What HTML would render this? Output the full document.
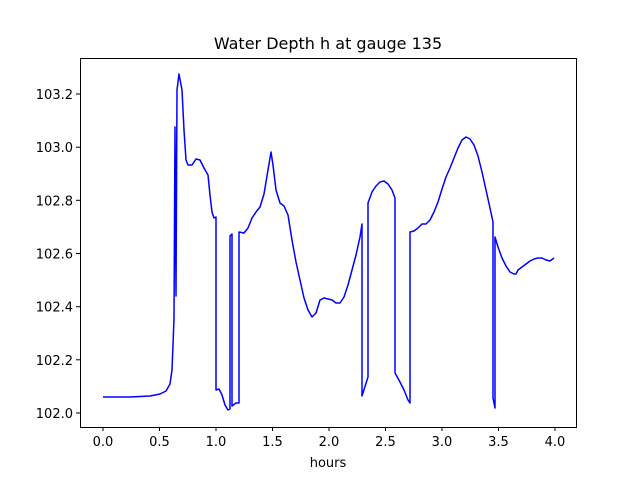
<!DOCTYPE html>
<html><head><meta charset="utf-8"><style>
body{margin:0;background:#fff;}
svg{display:block;font-family:"DejaVu Sans","Liberation Sans",sans-serif;}
</style></head><body>
<svg width="640" height="480" viewBox="0 0 640 480">
<rect width="640" height="480" fill="#fff"/>
<polyline fill="none" stroke="#0000ff" stroke-width="1.5" stroke-linejoin="round" points="103,397 130,397 150,396 160,394 166,391 170,384 172,370 173,345 174,318 175,127 176,296 177,90 179,74 182,90 184,130 186,160 188,165 192,165 196,159 200,160 204,168 208,175 210,195 212,212 214,218 216,217 216,390 219,389 222,395 225,405 228,410 230,409 230,236 232,234 232,406 236,403 239,403 239,232 244,233 248,228 252,218 256,212 260,207 264,194 268,170 271,152 273,165 276,190 280,203 284,206 288,215 292,240 296,262 300,280 304,298 308,310 312,317 316,313 320,300 324,298 328,299 332,300 336,303 340,303 344,297 348,285 352,270 356,255 360,237 362,224 362,396 368,377 368,203 372,192 376,186 380,182 384,181 388,184 392,190 395,198 395,373 400,382 404,390 408,400 410,403 410,232 414,231 418,228 422,224 426,224 430,220 434,212 438,202 442,189 446,177 450,168 454,158 458,148 462,140 466,137 470,139 474,145 478,156 482,172 486,190 490,208 493,222 493,398 495,408 495,237 498,247 502,258 506,266 510,272 514,274 516,274 518,270 522,267 526,264 530,261 534,259 538,258 542,258 546,260 550,261 554,258"/>
<rect x="80.5" y="58.5" width="496" height="369" fill="none" stroke="#000" stroke-width="1"/>
<g stroke="#000" stroke-width="1">
<line x1="103" y1="427" x2="103" y2="431"/><line x1="159.5" y1="427" x2="159.5" y2="431"/><line x1="216" y1="427" x2="216" y2="431"/><line x1="272.5" y1="427" x2="272.5" y2="431"/><line x1="329" y1="427" x2="329" y2="431"/><line x1="385.5" y1="427" x2="385.5" y2="431"/><line x1="442" y1="427" x2="442" y2="431"/><line x1="498.5" y1="427" x2="498.5" y2="431"/><line x1="555" y1="427" x2="555" y2="431"/>
<line x1="76" y1="413" x2="80" y2="413"/><line x1="76" y1="359.8" x2="80" y2="359.8"/><line x1="76" y1="306.7" x2="80" y2="306.7"/><line x1="76" y1="253.5" x2="80" y2="253.5"/><line x1="76" y1="200.3" x2="80" y2="200.3"/><line x1="76" y1="147.2" x2="80" y2="147.2"/><line x1="76" y1="94" x2="80" y2="94"/>
</g>
<g font-size="13" text-anchor="middle">
<text x="103" y="446">0.0</text><text x="159.5" y="446">0.5</text><text x="216" y="446">1.0</text><text x="272.5" y="446">1.5</text><text x="329" y="446">2.0</text><text x="385.5" y="446">2.5</text><text x="442" y="446">3.0</text><text x="498.5" y="446">3.5</text><text x="555" y="446">4.0</text>
<text x="328" y="467">hours</text>
</g>
<g font-size="13" text-anchor="end">
<text x="73" y="418">102.0</text><text x="73" y="364.8">102.2</text><text x="73" y="311.7">102.4</text><text x="73" y="258.5">102.6</text><text x="73" y="205.3">102.8</text><text x="73" y="152.2">103.0</text><text x="73" y="99">103.2</text>
</g>
<text x="328" y="49" font-size="16" text-anchor="middle">Water Depth h at gauge 135</text>
</svg>
</body></html>
